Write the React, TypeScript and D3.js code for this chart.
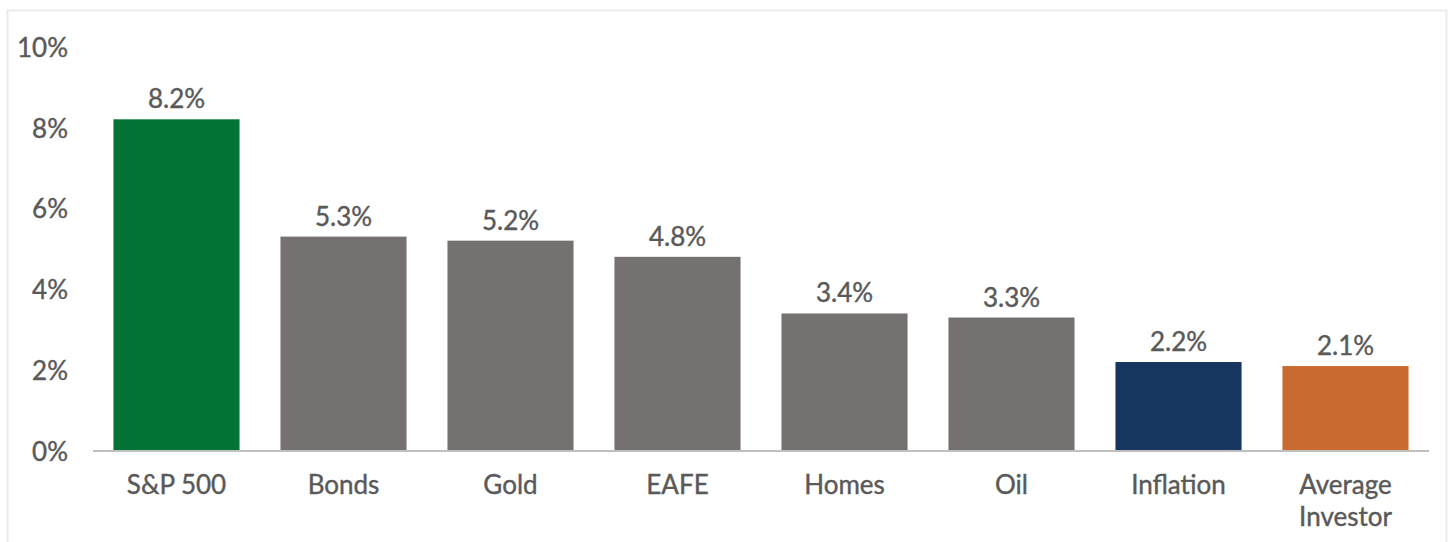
import React from "react";
import * as d3 from "d3";

const categories: string[][] = [["S&P 500"], ["Bonds"], ["Gold"], ["EAFE"], ["Homes"], ["Oil"], ["Inflation"], ["Average", "Investor"]];
const values: number[] = [8.2, 5.3, 5.2, 4.8, 3.4, 3.3, 2.2, 2.1];
const colors: string[] = ["#037336", "#767171", "#767171", "#767171", "#767171", "#767171", "#17365F", "#C96A2E"];
const yTicks: number[] = [0, 2, 4, 6, 8, 10];

export default function App() {
  const W = 1448, H = 542;
  const keys = categories.map((c) => c.join(" "));
  const x = d3.scaleBand<string>().domain(keys).range([93, 1429]).paddingInner(0.245).paddingOuter(0.1225);
  const y = d3.scaleLinear().domain([0, 10]).range([451, 46.5]);
  const font = "Lato, 'Open Sans', sans-serif";
  const txt = "#595959";
  const fs = 26;
  return (
    <svg width={W} height={H} style={{ position: "absolute", left: 0, top: 0, display: "block" }}>
      <rect x={0} y={0} width={W} height={H} fill="#fff" />
      <rect x={7.5} y={10.5} width={1439} height={560} fill="none" stroke="#ebebeb" strokeWidth={2} />
      {yTicks.map((t) => (
        <text key={t} x={68} y={y(t) + 1} dy="0.35em" textAnchor="end" fontFamily={font} fontSize={fs} fill={txt} stroke={txt} strokeWidth={0.4}>
          {t}%
        </text>
      ))}
      {values.map((v, i) => (
        <g key={keys[i]}>
          <rect x={x(keys[i])} y={y(v)} width={x.bandwidth()} height={y(0) - y(v)} fill={colors[i]} />
          <text x={(x(keys[i]) as number) + x.bandwidth() / 2} y={y(v) - 11} textAnchor="middle" fontFamily={font} fontSize={fs} fill={txt} stroke={txt} strokeWidth={0.4}>
            {v.toFixed(1)}%
          </text>
          {categories[i].map((line, j) => (
            <text key={j} x={(x(keys[i]) as number) + x.bandwidth() / 2} y={485 + j * 32} dy="0.35em" textAnchor="middle" fontFamily={font} fontSize={fs} fill={txt} stroke={txt} strokeWidth={0.4}>
              {line}
            </text>
          ))}
        </g>
      ))}
      <line x1={93} x2={1429} y1={y(0)} y2={y(0)} stroke="#bfbfbf" strokeWidth={2} />
    </svg>
  );
}
